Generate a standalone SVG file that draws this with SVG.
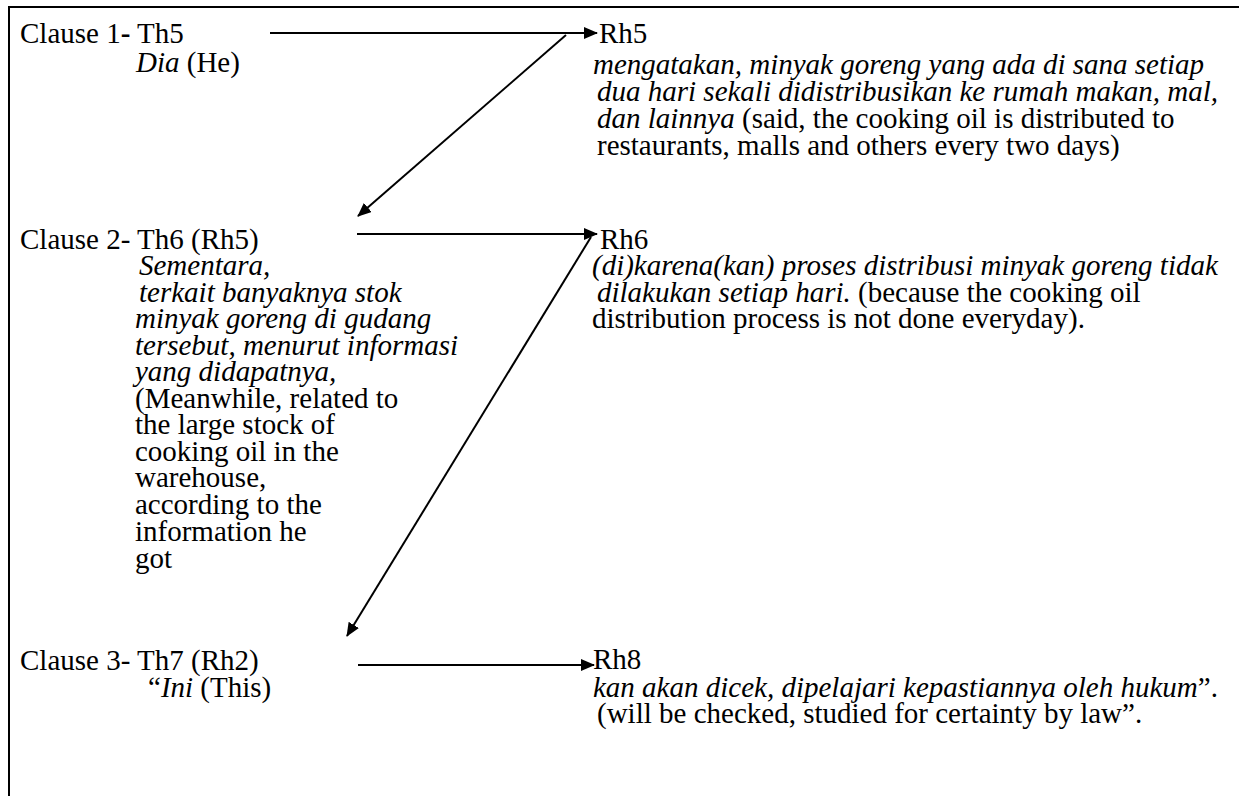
<svg xmlns="http://www.w3.org/2000/svg" width="1239" height="796" viewBox="0 0 1239 796" xml:space="preserve">
<style>
text{font-family:"Liberation Serif","Times New Roman",serif;font-size:29px;fill:#000}
.i{font-style:italic}
.ln{stroke:#000;stroke-width:2;fill:none}
</style>
<defs>
<marker id="ah" markerUnits="userSpaceOnUse" markerWidth="14" markerHeight="12" refX="13" refY="6" orient="auto"><path d="M0,0 L14,6 L0,12 Z" fill="#000"/></marker>
</defs>
<rect width="1239" height="796" fill="#fff"/>
<g id="frame"><path class="ln" d="M9,796 V7 H1239" stroke-width="3"/></g>
<g id="connectors">
<line class="ln" x1="270" y1="33" x2="597" y2="33" marker-end="url(#ah)"/>
<line class="ln" x1="566" y1="35" x2="358" y2="216" marker-end="url(#ah)"/>
<line class="ln" x1="357" y1="234" x2="597" y2="234" marker-end="url(#ah)"/>
<line class="ln" x1="591" y1="237" x2="347" y2="636" marker-end="url(#ah)"/>
<line class="ln" x1="358" y1="665" x2="594" y2="665" marker-end="url(#ah)"/>
</g>
<g id="th5"><text x="20" y="43">Clause 1<tspan font-weight="bold">-</tspan> Th5</text><text x="136" y="72"><tspan class="i">Dia</tspan> (He)</text></g>
<g id="rh5"><text x="599" y="43">Rh5</text>
<text x="593" y="74" class="i">mengatakan, minyak goreng yang ada di sana setiap</text>
<text x="597" y="101" class="i">dua hari sekali didistribusikan ke rumah makan, mal,</text>
<text x="597" y="128"><tspan class="i">dan lainnya</tspan> (said, the cooking oil is distributed to</text>
<text x="597" y="155">restaurants, malls and others every two days)</text></g>
<g id="th6"><text x="20" y="249">Clause 2-  Th6 (Rh5)</text>
<text x="139" y="275" class="i">Sementara,</text>
<text x="139" y="302" class="i">terkait banyaknya stok</text>
<text x="135" y="328" class="i">minyak goreng di gudang</text>
<text x="135" y="355" class="i">tersebut, menurut informasi</text>
<text x="135" y="381" class="i">yang didapatnya,</text>
<text x="135" y="408">(Meanwhile, related to</text>
<text x="135" y="434">the large stock of</text>
<text x="135" y="461">cooking oil in the</text>
<text x="135" y="487">warehouse,</text>
<text x="135" y="514">according to the</text>
<text x="135" y="541">information he</text>
<text x="135" y="568">got</text></g>
<g id="rh6"><text x="600" y="249">Rh6</text>
<text x="592" y="275" class="i">(di)karena(kan) proses distribusi minyak goreng tidak</text>
<text x="597" y="302"><tspan class="i">dilakukan setiap hari.</tspan> (because the cooking oil</text>
<text x="592" y="328">distribution process is not done everyday).</text></g>
<g id="th7"><text x="20" y="670">Clause 3-  Th7 (Rh2)</text>
<text x="148" y="697">“<tspan class="i">Ini</tspan> (This)</text></g>
<g id="rh8"><text x="593" y="669">Rh8</text>
<text x="593" y="697"><tspan class="i">kan akan dicek, dipelajari kepastiannya oleh hukum</tspan>”.</text>
<text x="597" y="723">(will be checked, studied for certainty by law”.</text></g>
</svg>
